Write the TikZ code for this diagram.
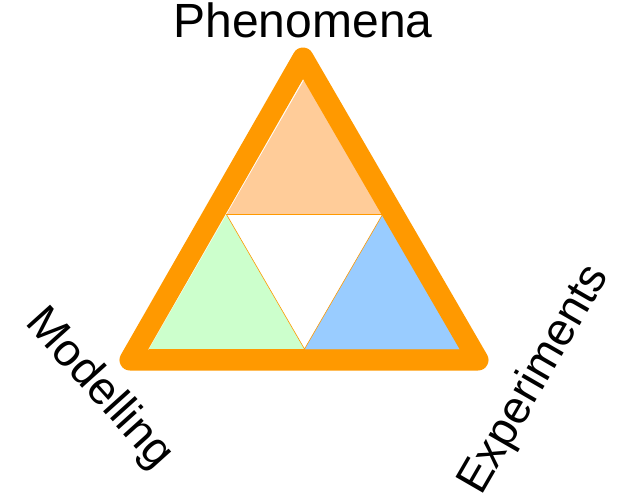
\documentclass[tikz,border=0pt]{standalone}
\usepackage{fontspec}
\setmainfont{Liberation Sans}
\definecolor{frameor}{HTML}{FF9900}
\definecolor{peach}{HTML}{FFCC99}
\definecolor{mint}{HTML}{CCFFCC}
\definecolor{sky}{HTML}{99CCFF}
\tikzset{
  label/.style={font=\fontsize{46}{54}\selectfont, inner sep=0pt},
  part/.style={draw=frameor, line width=0.6pt, line join=miter},
  frame/.style={draw=frameor, line width=21pt, line join=round}
}
\begin{document}
\begin{tikzpicture}[x=1pt,y=-1pt]
\useasboundingbox (0,0) rectangle (618,499);
% inner triangle corners
\coordinate (T) at (304,80);
\coordinate (L) at (149,349);
\coordinate (R) at (460,349);
\coordinate (ML) at (226.5,214.5);
\coordinate (MR) at (382.5,214.5);
\coordinate (MB) at (304.5,349);
\fill[peach] (T) -- (ML) -- (MR) -- cycle;
\fill[mint] (ML) -- (L) -- (MB) -- cycle;
\fill[sky] (MR) -- (MB) -- (R) -- cycle;
\draw[part] (ML) -- (MR) -- (MB) -- cycle;
\draw[part] (L) -- (MB);
\draw[part, draw=frameor!60!sky] (MB) -- (R);
% outer frame
\coordinate (A) at (303,58);
\coordinate (B) at (130,360);
\coordinate (C) at (478,360);
\draw[frame] (A) -- (B) -- (C) -- cycle;
% labels
\node[label, font=\fontsize{48}{56}\selectfont, anchor=base] (phen) at (303,37) {Phenomena};
\node[label, rotate=-48] (mod) at (99,389) {Modelling};
\node[label, rotate=60] (exp) at (535,380) {Experiments};
\end{tikzpicture}
\end{document}
